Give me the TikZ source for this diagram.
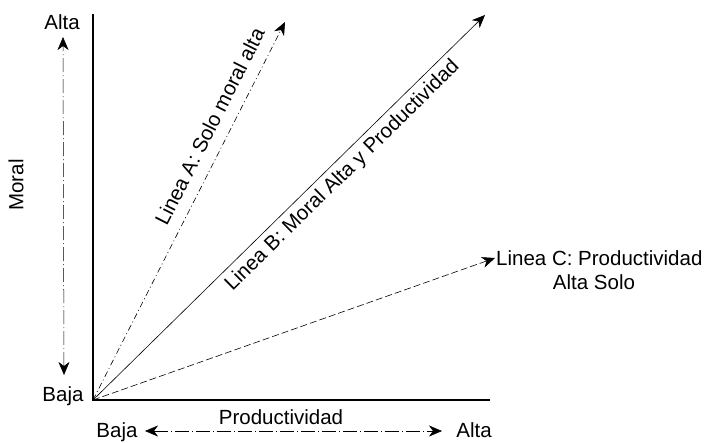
\documentclass[tikz,border=0pt]{standalone}
\usepackage{fontspec}
\setmainfont{Liberation Sans}
\usetikzlibrary{arrows.meta,calc}
\tikzset{
  lbl/.style={font=\fontsize{20.5}{24}\selectfont, inner sep=1pt},
  eje/.style={line width=2.2pt},
  punta/.style={Stealth[length=13pt,width=11pt,inset=4pt]},
  flecha/.style={-{Stealth[length=13pt,width=11pt,inset=4pt]}, line width=0.6pt},
  ayuda/.style={{Stealth[length=13pt,width=11pt,inset=4pt]}-{Stealth[length=13pt,width=11pt,inset=4pt]}, line width=0.5pt, dash pattern=on 14pt off 3pt on 1pt off 3pt}
}
\begin{document}
\begin{tikzpicture}[x=1pt,y=-1pt]
    \useasboundingbox (0,0) rectangle (711,442);
    % ejes
    \coordinate (O) at (93,400);
    \draw[eje] (93,14) -- (O) -- (490,400);
    % escala moral
    \node[lbl] (moralAlta) at (62,22) {Alta};
    \node[lbl] (moralBaja) at (63,396) {Baja};
    \node[lbl, rotate=90] (moral) at (16,185) {Moral};
    \coordinate (mArriba) at (63,37);
    \coordinate (mAbajo) at (64,375);
    \draw[ayuda] (mAbajo) -- (mArriba);
    % escala productividad
    \node[lbl] (prodBaja) at (117,432) {Baja};
    \node[lbl] (prodAlta) at (474,430) {Alta};
    \node[lbl] (prod) at (281,417) {Productividad};
    \coordinate (pIzq) at (145,431);
    \coordinate (pDer) at (442,431);
    \draw[ayuda] (pIzq) -- (pDer);
    % lineas
    \coordinate (A) at (285,22);
    \coordinate (B) at (485,15);
    \draw[flecha, dash pattern=on 6pt off 3pt on 1pt off 3pt] (O) -- (A);
    \node[lbl, rotate=63.1, anchor=south] (labA) at ($(O)!0.70!(A)+(-10,-5)$) {Linea A: Solo moral alta};
    \draw[flecha] (O) -- (B);
    \node[lbl, rotate=44.5, anchor=north] (labB) at ($(O)!0.61!(B)+(3,3)$) {Linea B: Moral Alta y Productividad};
    \node[lbl, anchor=west] (C) at (495,258) {Linea C: Productividad};
    \node[lbl] (Csolo) at (594,282) {Alta Solo};
    \draw[flecha, dash pattern=on 7pt off 3pt] (O) -- (C.west);
\end{tikzpicture}
\end{document}
